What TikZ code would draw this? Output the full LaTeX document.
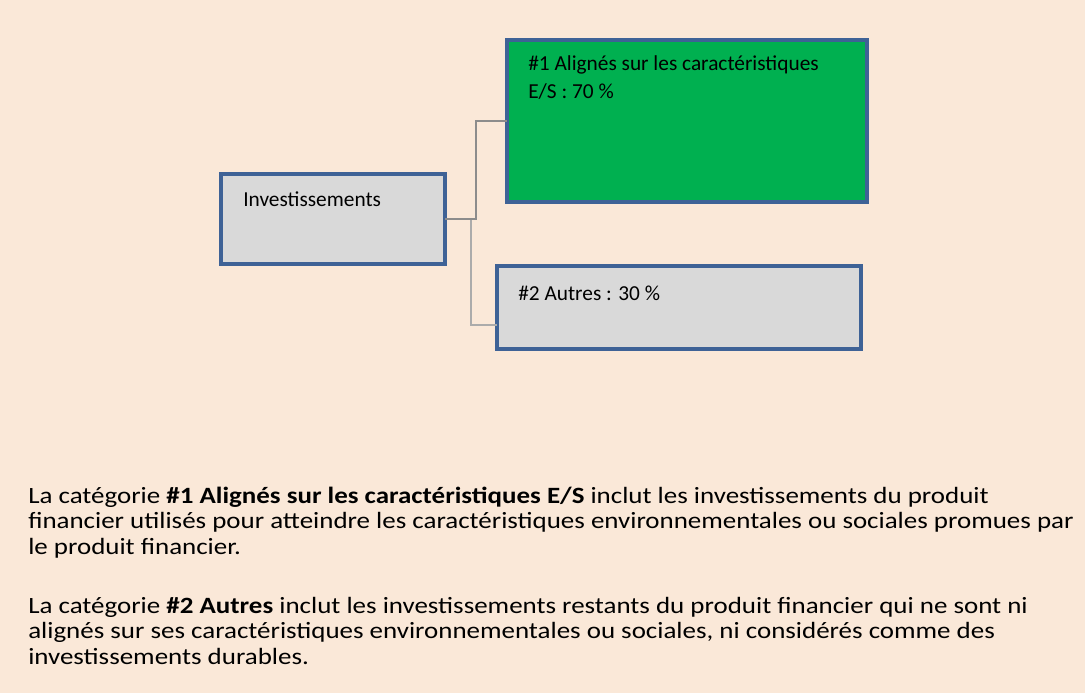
\documentclass[tikz,border=0pt]{standalone}
\usepackage{fontspec}
\setmainfont{Carlito}
\newfontfamily\bodyfont{Carlito}[FakeStretch=1.155]
\definecolor{bg}{HTML}{FAE8D8}
\definecolor{boxgray}{HTML}{D9D9D9}
\definecolor{boxblue}{HTML}{3E6296}
\definecolor{boxgreen}{HTML}{00B050}
\definecolor{lnk1}{HTML}{8C8C8C}
\definecolor{lnk2}{HTML}{ABABAB}
\begin{document}
\begin{tikzpicture}[x=0.75pt,y=-0.75pt,
  boxstyle/.style={draw=boxblue,line width=2.3pt,inner sep=0pt},
  boxtext/.style={anchor=base west,inner sep=0pt,font=\fontsize{16}{20.6}\selectfont,align=left},
  bodytext/.style={anchor=base west,inner sep=0pt,font=\bodyfont\fontsize{17.5}{18.8}\selectfont,align=left},
  link/.style={line width=1.5pt}]
\fill[bg] (0,0) rectangle (1085,693);
\useasboundingbox (0,0) rectangle (1085,693);
% boxes
\draw[boxstyle,fill=boxgray] (221,174) rectangle (445,264);
\coordinate (invR) at (445,219);
\draw[boxstyle,fill=boxgreen] (507,40) rectangle (867,202);
\coordinate (greenL) at (507,121);
\draw[boxstyle,fill=boxgray] (497,266) rectangle (861,349);
\coordinate (autL) at (497,325);
% connectors
\draw[link,lnk2] (invR) -- (471,219) -- (471,325) -- (autL);
\draw[link,lnk1] (invR) -- (476,219) -- (476,121) -- (greenL);
% texts
\node[boxtext] (tinv) at (243,206) {Investissements};
\node[boxtext] (tgreen) at (528,98) {\#1 Alignés sur les caractéristiques\\E/S : 70 \%};
\node[boxtext] (taut) at (518,300) {\#2 Autres : 30 \%};
\node[bodytext] (p1) at (28,554) {La catégorie \textbf{\#1 Alignés sur les caractéristiques E/S} inclut les investissements du produit\\financier utilisés pour atteindre les caractéristiques environnementales ou sociales promues par\\le produit financier.};
\node[bodytext] (p2) at (28,664) {La catégorie \textbf{\#2 Autres} inclut les investissements restants du produit financier qui ne sont ni\\alignés sur ses caractéristiques environnementales ou sociales, ni considérés comme des\\investissements durables.};
\end{tikzpicture}
\end{document}
